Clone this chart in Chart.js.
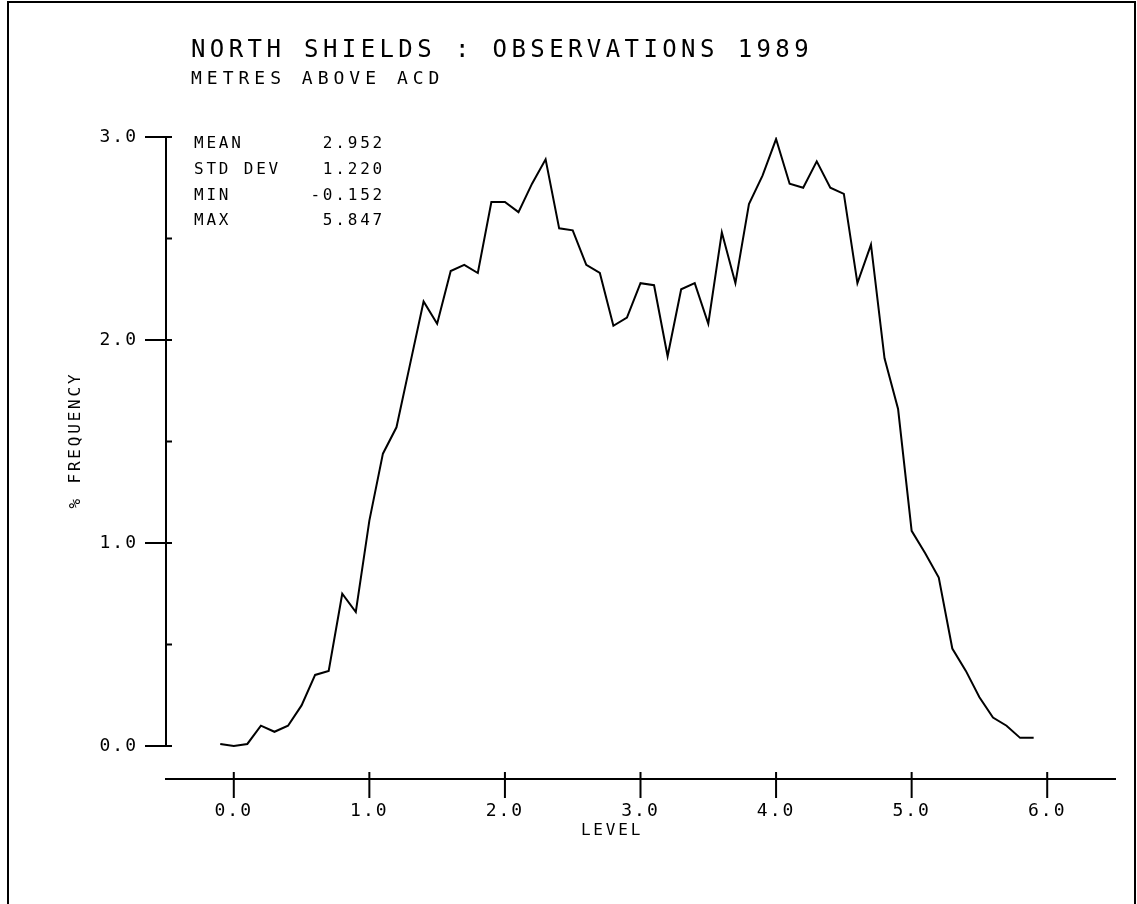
<!DOCTYPE html>
<html>
<head>
<meta charset="utf-8">
<title>North Shields : Observations 1989</title>
<script src="https://cdn.jsdelivr.net/npm/chart.js@4.4.1/dist/chart.umd.min.js"></script>
<style>
  body { margin: 0; background: #fff; }
  #wrap { width: 1137px; height: 904px; }
</style>
</head>
<body>
<div id="wrap"><canvas id="myChart" width="1137" height="904"></canvas></div>
<script>
// level (metres above ACD), one point per 0.1 m bin
var levels = [-0.1, 0.0, 0.1, 0.2, 0.3, 0.4, 0.5, 0.6, 0.7, 0.8, 0.9,
              1.0, 1.1, 1.2, 1.3, 1.4, 1.5, 1.6, 1.7, 1.8, 1.9,
              2.0, 2.1, 2.2, 2.3, 2.4, 2.5, 2.6, 2.7, 2.8, 2.9,
              3.0, 3.1, 3.2, 3.3, 3.4, 3.5, 3.6, 3.7, 3.8, 3.9,
              4.0, 4.1, 4.2, 4.3, 4.4, 4.5, 4.6, 4.7, 4.8, 4.9,
              5.0, 5.1, 5.2, 5.3, 5.4, 5.5, 5.6, 5.7, 5.8, 5.9];
// % frequency
var frequency = [0.01, 0.00, 0.01, 0.10, 0.07, 0.10, 0.20, 0.35, 0.37, 0.75, 0.66,
                 1.11, 1.44, 1.57, 1.88, 2.19, 2.08, 2.34, 2.37, 2.33, 2.68,
                 2.68, 2.63, 2.77, 2.89, 2.55, 2.54, 2.37, 2.33, 2.07, 2.11,
                 2.28, 2.27, 1.92, 2.25, 2.28, 2.08, 2.53, 2.28, 2.67, 2.81,
                 2.99, 2.77, 2.75, 2.88, 2.75, 2.72, 2.28, 2.47, 1.91, 1.66,
                 1.06, 0.95, 0.83, 0.48, 0.37, 0.24, 0.14, 0.10, 0.04, 0.04];
var xTicks = [0, 1, 2, 3, 4, 5, 6];
var yTicks = [0, 1, 2, 3];
var yMinorTicks = [0.5, 1.5, 2.5];
var statNames = ["MEAN", "STD DEV", "MIN", "MAX"];
var statValues = ["2.952", "1.220", "-0.152", "5.847"];

var FONT = "'DejaVu Sans Mono', 'Liberation Mono', monospace";

function txt(ctx, s, x, y, size, spacing, align) {
    ctx.save();
    ctx.font = size + "px " + FONT;
    ctx.letterSpacing = spacing + "px";
    ctx.fillStyle = "#000";
    ctx.textAlign = align || "left";
    ctx.textBaseline = "alphabetic";
    ctx.fillText(s, x, y);
    ctx.restore();
}

var plotter = {
    id: "plotter",
    beforeDraw: function(chart) {
        chart.ctx.letterSpacing = "2px";
    },
    afterDraw: function(chart) {
        var ctx = chart.ctx;
        var xs = chart.scales.x, ys = chart.scales.y;
        var left = chart.chartArea.left, axisY = chart.chartArea.bottom;
        ctx.save();
        ctx.strokeStyle = "#000";
        ctx.lineWidth = 2;
        // frame
        ctx.strokeRect(8, 2, 1127, 920);
        // y axis line 0..3
        ctx.beginPath();
        ctx.moveTo(left, ys.getPixelForValue(yTicks[yTicks.length - 1]));
        ctx.lineTo(left, ys.getPixelForValue(yTicks[0]));
        yTicks.forEach(function(v) {
            var py = ys.getPixelForValue(v);
            ctx.moveTo(left - 21, py);
            ctx.lineTo(left + 6, py);
        });
        yMinorTicks.forEach(function(v) {
            var py = ys.getPixelForValue(v);
            ctx.moveTo(left, py);
            ctx.lineTo(left + 6, py);
        });
        xTicks.forEach(function(v) {
            var px = xs.getPixelForValue(v);
            ctx.moveTo(px, axisY - 7);
            ctx.lineTo(px, axisY + 19);
        });
        ctx.stroke();
        ctx.restore();

        txt(ctx, "NORTH SHIELDS : OBSERVATIONS 1989", 191, 57, 24, 4.4);
        txt(ctx, "METRES ABOVE ACD", 191, 84, 18, 5);

        for (var i = 0; i < statNames.length; i++) {
            var by = 148 + i * 25.8;
            txt(ctx, statNames[i], 194, by, 16, 2.8);
            txt(ctx, statValues[i], 385, by, 16, 2.8, "right");
        }

        txt(ctx, "LEVEL", 612, 835, 16, 2.8, "center");
        ctx.save();
        ctx.translate(80, 440);
        ctx.rotate(-Math.PI / 2);
        txt(ctx, "% FREQUENCY", 0, 0, 16, 2.8, "center");
        ctx.restore();
    }
};

var myLineChart = new Chart(document.getElementById("myChart"), {
    type: "line",
    data: {
        datasets: [{
            label: "% frequency",
            data: levels.map(function(l, i) { return {x: l, y: frequency[i]}; }),
            borderColor: "#000",
            borderWidth: 2,
            pointRadius: 0,
            fill: false,
            tension: 0
        }]
    },
    options: {
        responsive: false,
        animation: false,
        layout: { padding: { left: 0, top: 137, right: 22, bottom: 0 } },
        plugins: { legend: { display: false }, title: { display: false }, tooltip: { enabled: false } },
        scales: {
            x: {
                type: "linear",
                min: -0.5,
                max: 6.5,
                afterBuildTicks: function(scale) {
                    scale.ticks = xTicks.map(function(v) { return {value: v}; });
                },
                afterFit: function(scale) { scale.height = 125; },
                grid: { display: false, drawTicks: false },
                border: { display: true, color: "#000", width: 2 },
                ticks: {
                    color: "#000",
                    padding: 22,
                    maxRotation: 0,
                    autoSkip: false,
                    font: { family: FONT, size: 18 },
                    callback: function(v) { return Number(v).toFixed(1); }
                }
            },
            y: {
                min: -0.1626,
                max: 3,
                afterBuildTicks: function(scale) {
                    scale.ticks = yTicks.map(function(v) { return {value: v}; });
                },
                afterFit: function(scale) { scale.width = 166; },
                grid: { display: false, drawTicks: false },
                border: { display: false },
                ticks: {
                    color: "#000",
                    padding: 28,
                    autoSkip: false,
                    font: { family: FONT, size: 18 },
                    callback: function(v) { return Number(v).toFixed(1); }
                }
            }
        }
    },
    plugins: [plotter]
});
</script>
</body>
</html>
